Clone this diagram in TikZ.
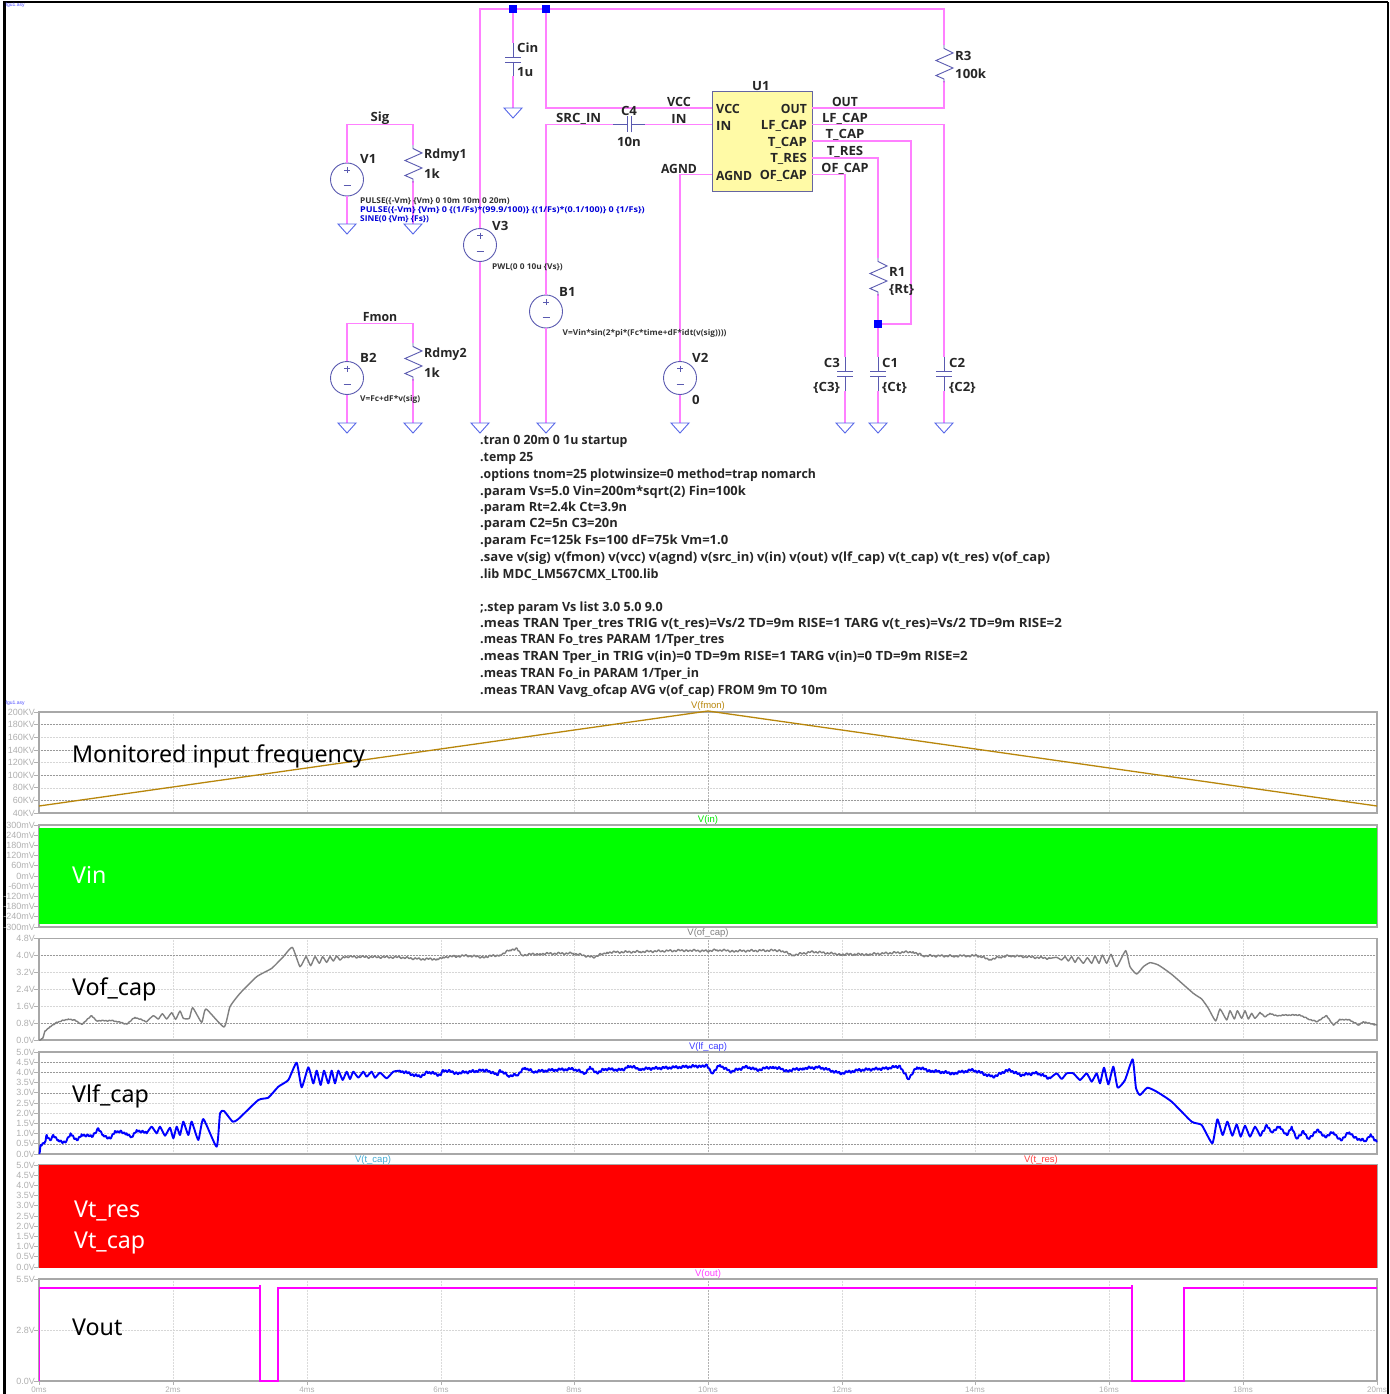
\documentclass[tikz,border=0pt]{standalone}
\usepackage{fontspec}
\setmainfont{Open Sans}[FakeStretch=1.04]
\newfontfamily\bigfont{Noto Sans}
\newfontfamily\plotfont{Liberation Sans}
\definecolor{wirec}{HTML}{FF80FF}
\definecolor{symc}{HTML}{5A5AB0}
\definecolor{gndc}{HTML}{5566E8}
\definecolor{axc}{HTML}{B0B0B0}
\definecolor{framec}{HTML}{A8A8A8}
\definecolor{fmonc}{HTML}{B8860B}
\definecolor{outc}{HTML}{FF00FF}
\definecolor{outl}{HTML}{FF40FF}
\tikzset{
  wire/.style={draw=wirec,line width=1.1pt},
  sym/.style={draw=symc,line width=0.9pt},
  gndsym/.style={draw=gndc,line width=0.9pt},
  lab/.style={font=\fontsize{12.7}{14}\selectfont\bfseries,inner sep=0pt,text=black!85,yshift=-0.5pt},
  dirtext/.style={font=\fontsize{12.7}{14}\selectfont\bfseries,inner sep=0pt,text=black!85,anchor=west,yshift=-1.3pt},
  small/.style={font=\fontsize{8}{9}\selectfont\bfseries,inner sep=0pt,anchor=west,text=black!80,yshift=-0.8pt},
  smallb/.style={small,text=blue!85!black},
  srcshape/.style={circle,draw=symc,line width=0.9pt,minimum size=33pt,inner sep=0pt},
  jct/.style={fill=blue,draw=none,minimum size=7.5pt,inner sep=0pt,rectangle},
  ubox/.style={rectangle,draw=symc!70!gray,line width=1pt,fill=yellow!35!white,minimum width=100pt,minimum height=99pt,inner sep=0pt},
  frm/.style={draw=framec,line width=1.4pt},
  axl/.style={font=\plotfont\fontsize{9}{10}\selectfont,text=axc,inner sep=0pt,anchor=east},
  xl/.style={font=\plotfont\fontsize{8}{9}\selectfont,text=axc,inner sep=0pt},
  tit/.style={font=\plotfont\fontsize{9.5}{10}\selectfont,inner sep=0pt},
  big/.style={font=\bigfont\fontsize{23.2}{26}\selectfont,inner sep=0pt,anchor=base west},
  gdark/.style={draw=black!40,line width=0.5pt,densely dotted},
  glight/.style={draw=black!16,line width=0.5pt,densely dotted},
  graytr/.style={draw=black!50,line width=1.4pt,line join=round,line cap=round},
  bluetr/.style={draw=blue,line width=1.9pt,line join=round,line cap=round},
}
\newcommand{\sx}[2]{\scalebox{#1}[1]{#2}}
\newcommand{\gnd}[1]{\draw[gndsym] (#1) ++(-9,0) -- ++(18,0) -- ++(-9,10) -- cycle;}
\newcommand{\resv}[1]{\draw[sym] (#1) -- ++(0,3.5) -- ++(9,4.5) -- ++(-17,7.5) -- ++(17,7.5) -- ++(-17,7.5) -- ++(8,3.5) -- ++(0,3.5);}
\newcommand{\capv}[1]{\draw[sym] (#1) -- ++(0,14.5) ++(-8,0) -- ++(16,0) ++(0,4.5) -- ++(-16,0) ++(8,0) -- ++(0,14.5);}
\newcommand{\srcmarks}[1]{\draw[sym] (#1) ++(0,-12.5) -- ++(0,6) ++(-3,-3) -- ++(6,0) ++(-6.5,15.5) -- ++(7,0);}
\newcommand{\noisy}[6]{%
 \foreach \xa/\ya [remember=\xa as \xp (initially #4), remember=\ya as \yp (initially #5)] in {#6}{
  \pgfmathtruncatemacro\kk{max(2,round((\xa-\xp)/#3))}
  \pgfmathtruncatemacro\kb{max(1,round(0.37*\kk))}
  \pgfmathtruncatemacro\nn{3*\kk+1}
  \draw[#1] plot[domain=0:1,samples=\nn,variable=\t] ({\xp+(\xa-\xp)*\t},{\yp+(\ya-\yp)*\t+#2*(0.7*sin(180*\kk*\t)+0.5*sin(180*\kb*\t))});
 }}
\newcommand{\vgrid}[2]{\foreach \vx in {173,307,441,574,842,975,1109,1243}{\draw[draw=black!14,line width=0.5pt,densely dotted] (\vx,#1) -- (\vx,#2);}
 \draw[draw=black!30,line width=0.5pt,densely dotted] (708,#1) -- (708,#2);}
\begin{document}
\begin{tikzpicture}[x=1pt,y=-1pt]
\useasboundingbox (0,0) rectangle (1389,1394);
\fill[white] (0,0) rectangle (1389,1394);
% outer frame
\draw[black,line width=2.4pt] (4.6,1394) -- (4.6,2.2) -- (1388,2.2);
\draw[black,line width=1.4pt] (1388,2.2) -- (1388,1394);
\node[font=\plotfont\fontsize{5}{5}\selectfont,text=blue!70,inner sep=0pt,anchor=west] (tagA) at (5.5,5.5) {fgu1.asy};
\node[font=\plotfont\fontsize{5}{5}\selectfont,text=blue!70,inner sep=0pt,anchor=west] (tagB) at (5.5,703) {fgu1.asy};

% ---- schematic: symbols anchors
\node[ubox] (U1) at (762,141.5) {};
\node[srcshape] (V1) at (347,179.5) {};
\node[srcshape] (V3) at (480,245) {};
\node[srcshape] (B1) at (546,311.5) {};
\node[srcshape] (B2) at (347,378) {};
\node[srcshape] (V2) at (680,378) {};
\coordinate (Rd1t) at (413,145); \coordinate (Rd1b) at (413,181);
\coordinate (Rd2t) at (413,343); \coordinate (Rd2b) at (413,379);
\coordinate (R3t) at (944,45); \coordinate (R3b) at (944,81);
\coordinate (R1t) at (878,258); \coordinate (R1b) at (878,294);
\coordinate (Cint) at (513,43); \coordinate (Cinb) at (513,76.5);
\coordinate (C3t) at (845,357); \coordinate (C3b) at (845,390.5);
\coordinate (C1t) at (878,357); \coordinate (C1b) at (878,390.5);
\coordinate (C2t) at (944,357); \coordinate (C2b) at (944,390.5);
\coordinate (C4l) at (613,124.5); \coordinate (C4r) at (645,124.5);
\coordinate (gV1) at (347,224); \coordinate (gRd1) at (413,224);
\coordinate (gCin) at (513,108); \coordinate (gV3) at (480,423);
\coordinate (gB1) at (546,423); \coordinate (gB2) at (347,423);
\coordinate (gRd2) at (413,423); \coordinate (gV2) at (680,423);
\coordinate (gC3) at (845,423); \coordinate (gC1) at (878,423); \coordinate (gC2) at (944,423);
\coordinate (pVCC) at (712,108); \coordinate (pIN) at (712,124.5); \coordinate (pAGND) at (712,174.5);
\coordinate (pOUT) at (812,108); \coordinate (pLF) at (812,124.5); \coordinate (pTC) at (812,141); \coordinate (pTR) at (812,158); \coordinate (pOF) at (812,174.5);
\coordinate (sigL) at (347,124.5); \coordinate (sigR) at (413,124.5);
\coordinate (fmL) at (347,323.5); \coordinate (fmR) at (413,323.5);
\coordinate (topL) at (480,9); \coordinate (topR) at (944,9);
\coordinate (jA) at (513,9); \coordinate (jB) at (546,9);
\coordinate (srcTop) at (546,108); \coordinate (srcIn) at (546,124.5);
\coordinate (jR) at (878,324);

% wires
\draw[wire] (V3.north) -- (topL) -- (topR) -- (R3t);
\draw[wire] (R3b) -- (944,108) -- (pOUT);
\draw[wire] (V3.south) -- (gV3);
\draw[wire] (jA) -- (Cint);
\draw[wire] (Cinb) -- (gCin);
\draw[wire] (jB) -- (srcTop) -- (pVCC);
\draw[wire] (B1.north) -- (srcIn) -- (C4l);
\draw[wire] (C4r) -- (pIN);
\draw[wire] (B1.south) -- (gB1);
\draw[wire] (V2.north) -- (680,174.5) -- (pAGND);
\draw[wire] (V2.south) -- (gV2);
\draw[wire] (pOF) -- (845,174.5) -- (C3t);
\draw[wire] (C3b) -- (gC3);
\draw[wire] (pTR) -- (878,158) -- (R1t);
\draw[wire] (R1b) -- (C1t);
\draw[wire] (C1b) -- (gC1);
\draw[wire] (pTC) -- (911,141) -- (911,324) -- (jR);
\draw[wire] (pLF) -- (944,124.5) -- (C2t);
\draw[wire] (C2b) -- (gC2);
\draw[wire] (V1.north) -- (sigL) -- (sigR) -- (Rd1t);
\draw[wire] (V1.south) -- (gV1);
\draw[wire] (Rd1b) -- (gRd1);
\draw[wire] (B2.north) -- (fmL) -- (fmR) -- (Rd2t);
\draw[wire] (B2.south) -- (gB2);
\draw[wire] (Rd2b) -- (gRd2);

% symbols
\foreach \g in {gV1,gRd1,gCin,gV3,gB1,gB2,gRd2,gV2,gC3,gC1,gC2}{\gnd{\g}}
\foreach \r in {Rd1t,Rd2t,R3t,R1t}{\resv{\r}}
\foreach \c in {Cint,C3t,C1t,C2t}{\capv{\c}}
\foreach \s in {V1,V3,B1,B2,V2}{\srcmarks{\s}}
\draw[sym] (C4l) -- ++(14,0) ++(0,-8) -- ++(0,16) ++(4.5,0) -- ++(0,-16) ++(0,8) -- (C4r);
\node[jct] (jAn) at (jA) {};
\node[jct] (jBn) at (jB) {};
\node[jct] (jRn) at (jR) {};

% schematic labels
\node[lab,anchor=west] (tV1) at (360,158.5) {V1};
\node[lab,anchor=west] (tRd1) at (424,155) {\sx{0.94}{Rdmy1}};
\node[lab,anchor=west] (tRd1v) at (424,173) {1k};
\node[lab] (tSig) at (380,118) {Sig};
\node[small] (pa) at (360,200) {PULSE(\{-Vm\} \{Vm\} 0 10m 10m 0 20m)};
\node[smallb] (pb) at (360,209) {\sx{1.085}{PULSE(\{-Vm\} \{Vm\} 0 \{(1/Fs)*(99.9/100)\} \{(1/Fs)*(0.1/100)\} 0 \{1/Fs\})}};
\node[smallb] (pc) at (360,218) {SINE(0 \{Vm\} \{Fs\})};
\node[lab,anchor=west] (tV3) at (492,225) {V3};
\node[small] (tV3v) at (492,266.5) {PWL(0 0 10u \{Vs\})};
\node[lab,anchor=west] (tB1) at (559,291.5) {B1};
\node[small] (tB1v) at (562.5,333) {V=Vin*sin(2*pi*(Fc*time+dF*idt(v(sig))))};
\node[lab,anchor=west] (tV2) at (692,357.5) {V2};
\node[lab,anchor=west] (tV2v) at (692,399) {0};
\node[lab,anchor=west] (tB2) at (360,357.5) {B2};
\node[lab,anchor=west] (tRd2) at (424,354) {\sx{0.94}{Rdmy2}};
\node[lab,anchor=west] (tRd2v) at (424,372.5) {1k};
\node[lab] (tFmon) at (380,317) {\sx{0.93}{Fmon}};
\node[small] (tB2v) at (360,399) {V=Fc+dF*v(sig)};
\node[lab,anchor=west] (tCin) at (517,47) {Cin};
\node[lab,anchor=west] (tCinv) at (517,71.5) {1u};
\node[lab,anchor=west] (tSrc) at (556,118) {SRC\_IN};
\node[lab] (tC4) at (629,110) {C4};
\node[lab] (tC4v) at (629,141) {10n};
\node[lab] (tVCC) at (679,101.5) {\sx{0.95}{VCC}};
\node[lab] (tIN) at (679,118) {IN};
\node[lab] (tAGND) at (679,168) {\sx{0.92}{AGND}};
\node[lab] (tU1) at (761,85.5) {U1};
\node[lab,anchor=west] (tR3) at (955,55) {R3};
\node[lab,anchor=west] (tR3v) at (955,73.5) {100k};
\node[lab,anchor=west] (bVCC) at (716,108.5) {\sx{0.95}{VCC}};
\node[lab,anchor=west] (bIN) at (716,125) {IN};
\node[lab,anchor=west] (bAGND) at (716,175) {\sx{0.92}{AGND}};
\node[lab,anchor=east] (bOUT) at (807,108.5) {\sx{0.92}{OUT}};
\node[lab,anchor=east] (bLF) at (807,125) {LF\_CAP};
\node[lab,anchor=east] (bTC) at (807,142) {T\_CAP};
\node[lab,anchor=east] (bTR) at (807,158.5) {T\_RES};
\node[lab,anchor=east] (bOF) at (807,175) {\sx{0.96}{OF\_CAP}};
\node[lab] (oOUT) at (845,101.5) {\sx{0.92}{OUT}};
\node[lab] (oLF) at (845,118) {LF\_CAP};
\node[lab] (oTC) at (845,134.5) {T\_CAP};
\node[lab] (oTR) at (845,151.5) {T\_RES};
\node[lab] (oOF) at (845,168) {\sx{0.96}{OF\_CAP}};
\node[lab,anchor=west] (tR1) at (889,271) {R1};
\node[lab,anchor=west] (tR1v) at (889,289.5) {\{Rt\}};
\node[lab,anchor=east] (tC3) at (840,362) {C3};
\node[lab,anchor=east] (tC3v) at (840,387) {\{C3\}};
\node[lab,anchor=west] (tC1) at (882,362) {C1};
\node[lab,anchor=west] (tC1v) at (882,387) {\{Ct\}};
\node[lab,anchor=west] (tC2) at (949,362) {C2};
\node[lab,anchor=west] (tC2v) at (949,387) {\{C2\}};

% directives
\node[dirtext] (d1) at (480,440.5) {\sx{0.936}{.tran 0 20m 0 1u startup}};
\node[dirtext] (d2) at (480,457) {\sx{0.93}{.temp 25}};
\node[dirtext] (d3) at (480,473.5) {\sx{0.928}{.options tnom=25 plotwinsize=0 method=trap nomarch}};
\node[dirtext] (d4) at (480,490.5) {\sx{0.978}{.param Vs=5.0 Vin=200m*sqrt(2) Fin=100k}};
\node[dirtext] (d5) at (480,507) {\sx{0.967}{.param Rt=2.4k Ct=3.9n}};
\node[dirtext] (d6) at (480,523.5) {\sx{0.979}{.param C2=5n C3=20n}};
\node[dirtext] (d7) at (480,540) {\sx{0.988}{.param Fc=125k Fs=100 dF=75k Vm=1.0}};
\node[dirtext] (d8) at (480,557) {\sx{0.988}{.save v(sig) v(fmon) v(vcc) v(agnd) v(src\_in) v(in) v(out) v(lf\_cap) v(t\_cap) v(t\_res) v(of\_cap)}};
\node[dirtext] (d9) at (480,573.5) {\sx{0.952}{.lib MDC\_LM567CMX\_LT00.lib}};
\node[dirtext] (d10) at (480,606.5) {\sx{0.953}{;.step param Vs list 3.0 5.0 9.0}};
\node[dirtext] (d11) at (480,623) {\sx{1.007}{.meas TRAN Tper\_tres TRIG v(t\_res)=Vs/2 TD=9m RISE=1 TARG v(t\_res)=Vs/2 TD=9m RISE=2}};
\node[dirtext] (d12) at (480,639.5) {\sx{0.953}{.meas TRAN Fo\_tres PARAM 1/Tper\_tres}};
\node[dirtext] (d13) at (480,656) {\sx{1.002}{.meas TRAN Tper\_in TRIG v(in)=0 TD=9m RISE=1 TARG v(in)=0 TD=9m RISE=2}};
\node[dirtext] (d14) at (480,672.5) {\sx{0.952}{.meas TRAN Fo\_in PARAM 1/Tper\_in}};
\node[dirtext] (d15) at (480,689.5) {\sx{0.948}{.meas TRAN Vavg\_ofcap AVG v(of\_cap) FROM 9m TO 10m}};

% ---- panel 1: fmon
\vgrid{712}{813}
\foreach \yy in {724.6,750,775.2,800.4}{\draw[gdark] (39,\yy) -- (1377,\yy);}
\foreach \yy in {737.2,762.6,787.8}{\draw[glight] (39,\yy) -- (1377,\yy);}
\draw[frm] (39,712) rectangle (1377,813);
\foreach \lab/\yy in {200KV/712,180KV/724.6,160KV/737.2,140KV/750,120KV/762.6,100KV/775.2,80KV/787.8,60KV/800.4,40KV/813}{
  \draw[axc,line width=0.8pt] (34,\yy) -- (39,\yy);
  \node[axl,name=a\yy] at (35,\yy) {\lab};}
\draw[fmonc,line width=1.3pt,line join=round] (39,806) -- (708,711) -- (1377,806);
\node[tit,text=fmonc] (tfmon) at (708,706) {V(fmon)};
\node[big] (bigA) at (72,762) {Monitored input frequency};

% ---- panel 2: Vin
\draw[frm] (39,825) rectangle (1377,927);
\foreach \lab/\yy in {300mV/825,240mV/835.2,180mV/845.4,120mV/855.6,60mV/865.8,0mV/876,-60mV/886.2,-120mV/896.4,-180mV/906.6,-240mV/916.8,-300mV/927}{
  \draw[axc,line width=0.8pt] (34,\yy) -- (39,\yy);
  \node[axl,name=b\yy] at (35,\yy) {\lab};}
\fill[green] (39,828) rectangle (1377,924);
\node[tit,text=green!90!black] (tvin) at (708,820) {V(in)};
\node[big,text=white] (bigB) at (72,883) {Vin};

% ---- panel 3: Vof_cap
\vgrid{938}{1040}
\foreach \yy in {955,1023}{\draw[gdark] (39,\yy) -- (1377,\yy);}
\foreach \yy in {972,989,1006}{\draw[glight] (39,\yy) -- (1377,\yy);}
\draw[frm] (39,938.5) rectangle (1377,1040);
\foreach \lab/\yy in {4.8V/938.5,4.0V/955,3.2V/972,2.4V/989,1.6V/1006,0.8V/1023,0.0V/1040}{
  \draw[axc,line width=0.8pt] (34,\yy) -- (39,\yy);
  \node[axl,name=c\yy] at (35,\yy) {\lab};}
\begin{scope}[shift={(0,925)},x=0.33333pt,y=-0.33333pt]
\noisy{graytr}{1.3}{5}{118}{345}{128/340,135/318,150/305,170/292,205/282,225/285,245/298,275/272,290/287,340/287,380/297,405/277,440/290}
\draw[graytr] plot[smooth,tension=0.3] coordinates {(440,290)(460,272)(475,282)(487,266)(500,282)(515,263)(527,283)(540,258)(550,280)(568,280)(578,248)(605,292)(618,252)(672,306)(690,245)(720,205)(770,155)(815,130)(850,95)(877,67)(900,125)(918,95)(932,122)(945,95)(958,115)(968,95)(980,112)(990,95)(1000,108)(1010,93)(1020,105)(1030,95)};
\end{scope}
\noisy{graytr}{1.0}{2}{343.3}{956.7}{400/957.3,420/959,437/959,443/957,467/955.7,483/957,500/955,510/950,517/948.3,522/955,540/953.7,573/953.3,593/957.3,607/952.3,640/951.7,687/950.3,707/951,717/950,733/951,780/950.3,793/955,813/951.7,840/954.3,867/954.3,913/951.7,923/955.7,953/956,977/955.7,990/959.3,1000/957,1010/955.7,1050/958.3}
\begin{scope}[shift={(1000,925)},x=0.33333pt,y=-0.33333pt]
\draw[graytr] plot[smooth,tension=0.3] coordinates {(150,100)(170,97)(185,105)(195,95)(205,108)(215,95)(225,112)(235,97)(250,115)(262,98)(275,115)(285,93)(297,115)(307,90)(320,115)(333,88)(350,125)(377,77)(390,125)(410,147)(430,125)(450,113)(475,120)(515,148)(580,205)(605,222)(625,250)(647,288)(660,252)(680,285)(690,257)(703,282)(712,257)(725,280)(735,257)(745,282)(755,265)(765,280)(780,262)};
\noisy{graytr}{1.3}{5}{780}{262}{795/275,810/265,830/272,860/270,900/270,925/282,950/290,980/272,1000/300,1020/283,1050/285,1075/300,1090/290,1110/295,1130/300}
\end{scope}
\node[tit,text=black!50] (tvof) at (708,933) {V(of\_cap)};
\node[big] (bigC) at (72,995) {Vof\_cap};

% ---- panel 4: Vlf_cap
\vgrid{1052}{1154}
\foreach \yy in {1062.2,1072.4,1092.8,1123.4,1143.8}{\draw[gdark] (39,\yy) -- (1377,\yy);}
\foreach \yy in {1082.6,1103,1113.2,1133.6}{\draw[glight] (39,\yy) -- (1377,\yy);}
\draw[frm] (39,1052) rectangle (1377,1154);
\foreach \lab/\yy in {5.0V/1052,4.5V/1062.2,4.0V/1072.4,3.5V/1082.6,3.0V/1092.8,2.5V/1103,2.0V/1113.2,1.5V/1123.4,1.0V/1133.6,0.5V/1143.8,0.0V/1154}{
  \draw[axc,line width=0.8pt] (34,\yy) -- (39,\yy);
  \node[axl,name=d\yy] at (35,\yy) {\lab};}
\begin{scope}[shift={(0,925)},x=0.33333pt,y=-0.33333pt]
\noisy{bluetr}{4}{5}{118}{685}{122/660,135/650,140/630,150/645,160/630,175/645,195/652,212/625,230/645,245/628,275/635,295/610,310/630,330/640,345/618,380/625,395/635,410/615,440/625}
\draw[bluetr] plot[smooth,tension=0.3] coordinates {(440,625)(455,605)(470,625)(480,605)(495,632)(510,608)(520,640)(530,605)(540,630)(550,590)(565,630)(575,590)(595,645)(610,582)(650,665)(660,565)(672,558)(698,590)(715,582)(775,525)(805,518)(835,485)(865,465)(890,413)(905,487)(925,427)(940,475)(950,437)(962,480)(972,437)(985,475)(995,437)(1005,475)(1015,437)(1028,465)(1040,440)(1050,462)(1060,440)(1075,458)(1090,440)(1100,455)(1115,440)(1125,458)(1140,443)(1160,460)(1180,440)(1200,437)};
\end{scope}
\noisy{bluetr}{1.3}{1.7}{400}{1070.7}{420/1076.7,427/1071.7,440/1075,443/1070,457/1073,487/1070,497/1075,500/1070,508/1075.7,517/1075,525/1067.7,533/1071.7,553/1070,573/1069,585/1073,590/1066.7,597/1073,603/1069,623/1070,628/1065.7,640/1069,667/1067.7,687/1066.7,700/1066,707/1065,712/1073,720/1065,730/1071.7,747/1066.7,757/1070,773/1066.7,787/1070.7,803/1068.3,820/1067.3,840/1073.3,860/1070,887/1068.3,900/1066,908/1079,917/1067.3,930/1070.7,953/1073.3,973/1070,993/1077,1000/1073,1010/1070,1020/1075,1037/1073,1050/1078.3}
\begin{scope}[shift={(1000,925)},x=0.33333pt,y=-0.33333pt]
\draw[bluetr] plot[smooth,tension=0.3] coordinates {(150,460)(170,445)(185,462)(200,445)(220,445)(240,465)(260,445)(275,470)(290,445)(300,475)(312,428)(325,478)(340,425)(353,488)(375,465)(398,403)(408,490)(420,510)(442,488)(470,500)(515,530)(575,590)(605,600)(637,655)(652,583)(668,630)(682,590)(697,632)(710,598)(722,635)(735,602)(750,635)(765,605)(780,632)};
\noisy{bluetr}{4}{5}{780}{632}{800/600,815/620,840/605,860/630,875/605,890/640,910/618,925/640,955/615,975/635,1000/622,1022/645,1048/622,1070/640,1095/648,1112/628,1130/650}
\end{scope}
\node[tit,text=blue!75] (tvlf) at (708,1047) {V(lf\_cap)};
\node[big] (bigD) at (72,1102) {Vlf\_cap};

% ---- panel 5: t_cap/t_res
\draw[frm] (39,1165) rectangle (1377,1267);
\foreach \lab/\yy in {5.0V/1165,4.5V/1175.2,4.0V/1185.4,3.5V/1195.6,3.0V/1205.8,2.5V/1216,2.0V/1226.2,1.5V/1236.4,1.0V/1246.6,0.5V/1256.8,0.0V/1267}{
  \draw[axc,line width=0.8pt] (34,\yy) -- (39,\yy);
  \node[axl,name=e\yy] at (35,\yy) {\lab};}
\fill[red] (39,1165) rectangle (1377,1267.5);
\node[tit,text=cyan!70!gray] (ttc) at (373,1160) {V(t\_cap)};
\node[tit,text=red!75] (ttr) at (1041,1160) {V(t\_res)};
\node[big,text=white] (bigE) at (74,1217) {Vt\_res};
\node[big,text=white] (bigF) at (74,1248) {Vt\_cap};

% ---- panel 6: Vout
\vgrid{1279}{1381}
\draw[glight] (39,1330) -- (1377,1330);
\draw[frm] (39,1279) rectangle (1377,1381);
\foreach \lab/\yy in {5.5V/1279,2.8V/1330,0.0V/1381}{
  \draw[axc,line width=0.8pt] (34,\yy) -- (39,\yy);
  \node[axl,name=f\yy] at (35,\yy) {\lab};}
\foreach \lab/\vx in {0ms/39,2ms/173,4ms/307,6ms/441,8ms/574,10ms/708,12ms/842,14ms/975,16ms/1109,18ms/1243,20ms/1377}{
  \draw[axc,line width=0.8pt] (\vx,1381) -- (\vx,1385);
  \node[xl,name=x\vx] at (\vx,1389.5) {\lab};}
\draw[outc,line width=1.1pt,line join=miter] (39.5,1381) -- (39.5,1288) -- (260,1288) -- (260,1285) -- (260,1381) -- (278,1381) -- (278,1288) -- (1132,1288) -- (1132,1285) -- (1132,1381) -- (1184,1381) -- (1184,1288) -- (1377,1288);
\node[tit,text=outl] (tvout) at (708,1274) {V(out)};
\node[big] (bigG) at (72,1335) {Vout};
\end{tikzpicture}
\end{document}
